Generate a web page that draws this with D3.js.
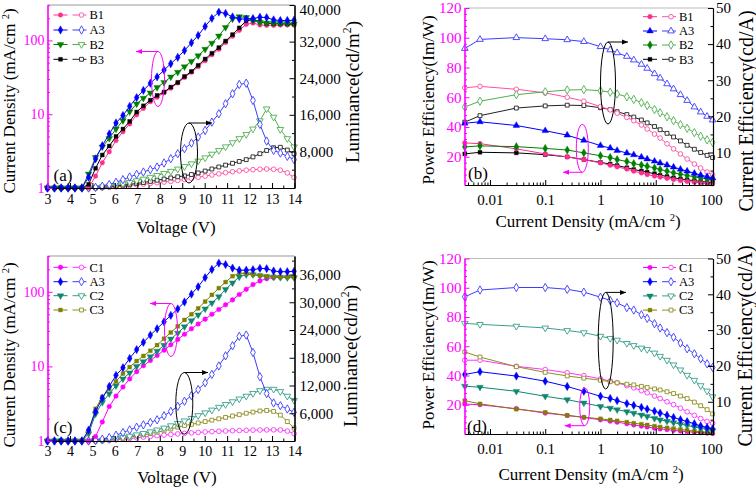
<!DOCTYPE html>
<html><head><meta charset="utf-8">
<script src="https://cdn.jsdelivr.net/npm/d3@7"></script>
<style>body{margin:0;background:#fff} svg{display:block}</style>
</head><body>
<script>
// ---------------- DATA ----------------
const voltage = [3.00,3.31,3.61,3.92,4.22,4.53,4.83,5.14,5.44,5.75,6.05,6.36,6.66,6.97,7.27,7.58,7.88,8.19,8.49,8.80,9.10,9.41,9.71,10.02,10.32,10.63,10.93,11.24,11.54,11.85,12.15,12.46,12.76,13.07,13.37,13.68,13.98];
const jA3 = [1,1,1,1,1,1,1.4,2.48,3.75,5.4,7.6,9.6,12.8,16.8,21,26.3,32,39.6,48.3,59,73,93,117,155,199,242,232,208,195,195,198,206,204,190,186,186,188];
const lA3 = [0,0,0,0,0,0,0,150,400,750,1250,1830,2400,2990,3490,4010,4580,5460,6410,7500,8600,9820,11130,12590,14400,16230,18420,20600,22630,22910,19140,13900,10260,8230,7640,6920,6200];
const jB1 = [1,1,1,1,1,1,1,1.45,2.2,3.1,4.4,5.8,7.4,9.8,12,14.8,17,19.5,22.5,26.5,31.5,37,44,53,64,76,94,114,137,165,172,162,160,160,162,162,162];
const lB1 = [0,0,0,0,0,0,0,0,50,150,250,400,550,700,850,1000,1150,1300,1450,1650,1850,2100,2350,2600,2850,3100,3350,3550,3750,3900,4000,4100,4150,4100,3900,3300,2300];
const jB2 = [1,1,1,1,1,1,1.55,2.6,3.6,4.7,6.3,8.2,10.8,13.8,16.5,19.5,23,27,32,37,44,52,62,76,92,115,150,195,210,205,185,175,172,172,170,170,168];
const lB2 = [0,0,0,0,0,0,0,100,250,450,700,950,1250,1600,1950,2350,2750,3200,3650,4150,4700,5300,5900,6600,7400,8200,9000,9900,10800,11700,12900,14700,17300,15500,12800,10800,9000];
const jB3 = [1,1,1,1,1,1,1.12,1.85,2.8,3.7,5.0,6.3,8.0,10.7,13,15.5,18,20,23.3,27,32.5,38,46,56,67,80,98,120,148,185,190,180,170,168,168,167,166];
const lB3 = [0,0,0,0,0,0,0,50,150,300,450,600,800,1000,1200,1450,1700,1950,2200,2450,2650,2950,3300,3700,4150,4600,5000,5400,5800,6200,6800,7500,8200,8800,8900,8300,7500];
const jC1 = [1,1,1,1,1,1,1,1.15,1.8,2.9,4.0,5.3,6.8,8.5,10.2,12,14,16.5,19.5,23,27,32,37,43,50,58,67,78,92,108,125,140,150,155,157,158,158];
const lC1 = [0,0,0,0,0,0,0,0,0,100,250,400,550,700,850,1000,1150,1300,1420,1530,1650,1760,1860,1950,2030,2100,2160,2220,2270,2310,2350,2380,2400,2420,2380,2150,1600];
const jC2 = [1,1,1,1,1,1,1.25,2.3,3.3,4.3,5.5,6.8,8.2,10.0,11.6,13.5,16.0,19.2,23.3,28,34,41,49,59,71,86,108,132,158,170,170,164,160,157,156,155,155];
const lC2 = [0,0,0,0,0,0,0,0,150,350,550,800,1050,1350,1650,2000,2400,2800,3300,3800,4350,4900,5500,6100,6700,7300,7900,8500,9100,9700,10300,10900,11200,11200,10700,9700,8800];
const jC3 = [1,1,1,1,1,1,1.35,2.7,3.9,5.0,6.3,8.0,9.8,11.8,13.8,16.2,19.3,23.5,28.5,34.5,42,50,60,74,91,112,135,162,178,175,170,165,162,160,158,158,157];
const lC3 = [0,0,0,0,0,0,0,0,100,250,450,650,850,1100,1350,1600,1900,2200,2600,3000,3350,3600,3900,4200,4500,4800,5100,5400,5700,6000,6250,6500,6600,6400,5600,4200,2800];

const effJ = [0.0035,0.0066,0.03,0.1,0.25,0.5,1.0,1.5,2.0,3.0,4.0,5.5,7.0,9.5,12,16,21,28,37,50,65,85,107];
const peB1 = [29.3,28.8,25.3,21.9,19.9,18.1,15.9,14.3,13.2,11.7,10.3,9.1,8.0,7.0,6.3,5.5,4.7,4.0,3.4,2.9,2.5,2.1,1.8];
const ceB1 = [27.9,28.3,27.5,26.5,25.3,24.2,22.7,21.8,20.9,19.7,18.8,17.6,16.5,15.1,14.0,12.4,11.0,9.6,8.2,6.8,5.7,4.6,3.8];
const peA3b = [42.5,43.5,41.0,37.5,34.5,31.0,27.5,25.8,24.2,22.5,21.3,19.7,18.5,17.0,15.8,14.4,13.0,11.6,10.3,8.9,7.7,6.6,5.6];
const ceA3b = [38.8,41.3,41.8,41.5,41.2,40.7,39.3,38.4,37.6,36.6,35.6,34.4,33.3,31.8,30.6,29.0,27.6,26.0,24.4,22.6,21.2,20.0,19.0];
const peB2 = [26.6,27.3,26.8,25.6,24.5,22.6,20.7,19.5,18.1,16.8,15.4,14.4,13.6,12.5,11.4,10.3,9.2,8.3,7.4,6.5,5.8,5.2,4.7];
const ceB2 = [22.6,24.2,26.0,26.8,27.3,27.4,27.1,26.7,26.2,25.4,24.7,23.8,23.0,21.9,21.0,19.9,18.8,17.7,16.7,15.5,14.5,13.5,12.8];
const peB3 = [21.9,23.0,22.6,21.4,19.9,18.1,16.2,15.1,14.1,12.6,11.4,10.4,9.6,8.6,7.6,6.7,5.8,5.1,4.5,3.9,3.4,2.9,2.5];
const ceB3 = [18.4,20.2,22.3,22.9,23.1,23.0,22.4,21.9,21.3,20.5,19.8,19.0,18.2,17.2,16.3,15.3,14.3,13.2,12.0,10.9,10.0,9.2,8.6];
const peC1 = [20.5,20.0,17.3,14.3,12.7,11.3,9.7,8.8,8.1,7.0,6.2,5.4,4.8,4.0,3.5,3.0,2.5,2.0,1.6,1.2,0.9,0.6,0.3];
const ceC1 = [21.6,21.6,19.9,19.0,18.1,17.3,16.4,15.8,15.3,14.5,13.9,13.1,12.5,11.6,10.9,10.0,9.2,8.2,7.2,6.2,5.3,4.5,4.0];
const peA3d = [40.7,42.6,39.6,36.1,32.5,29.2,25.8,24.3,22.8,20.8,19.6,18.2,17.0,15.6,14.3,12.8,11.3,9.8,8.5,7.0,5.5,4.5,3.5];
const ceA3d = [39.3,41.2,41.9,41.9,41.4,40.6,39.2,38.3,37.6,36.3,35.6,34.3,33.3,31.8,30.6,29.3,28.0,26.4,24.8,23.4,22.0,20.6,19.6];
const peC2 = [32.7,32.0,29.2,25.8,23.5,21.2,18.9,17.7,16.6,15.3,14.3,13.0,12.0,10.7,9.7,8.7,7.8,6.8,5.8,4.8,3.9,3.1,2.3];
const ceC2 = [31.9,31.6,31.1,30.6,29.9,29.3,28.3,27.7,27.2,26.3,25.7,25.0,24.6,23.6,22.7,21.6,20.3,18.9,17.4,16.0,14.5,13.0,11.4];
const peC3 = [22.8,20.6,17.0,14.8,12.7,11.5,10.4,9.6,9.0,8.1,7.4,6.7,6.2,5.4,4.8,4.2,3.7,3.1,2.5,2.0,1.6,1.1,0.7];
const ceC3 = [23.9,22.5,19.8,18.2,17.2,16.6,16.0,15.6,15.3,14.9,14.7,14.3,14.0,13.6,13.3,12.8,12.3,11.6,10.9,9.9,8.9,7.8,6.6];

const voltTicks = [3,4,5,6,7,8,9,10,11,12,13,14];
const jTicks = [1,10,100];
const lumTicksA = [8000,16000,24000,32000,40000];
const lumTicksC = [6000,12000,18000,24000,30000,36000];
const effXTicks = [0.01,0.1,1,10,100];
const effXLabels = ["0.01","0.1","1","10","100"];
const peTicks = [20,40,60,80,100,120];
const ceTicks = [10,20,30,40,50];

// ---------------- DRAWING ----------------
const FONT = "'Liberation Serif','Times New Roman',serif";
const MAG = "#ff00ff";
const COL = {
  B1:"#ff2d8f", B1o:"#ff4fa3",
  A3:"#0000ff", A3o:"#3c3cff",
  B2:"#008000", B2o:"#4fae4f",
  B3:"#000000", B3o:"#222222",
  C1:"#ff00ff", C1o:"#ff33ff",
  C2:"#0f8670", C2o:"#3a9f8c",
  C3:"#808000", C3o:"#8f8f22"
};
const svg = d3.select("body").append("svg").attr("width",756).attr("height",488)
  .style("font-family",FONT);

function symPath(shape){
  const m = {circle:[d3.symbolCircle,17], diamond:[d3.symbolDiamond,20], triUp:[d3.symbolTriangle,19],
             triDown:[d3.symbolTriangle,19], square:[d3.symbolSquare,15]}[shape];
  return d3.symbol().type(m[0]).size(m[1])();
}
function marker(g, x, y, shape, color, filled){
  g.append("path").attr("d", symPath(shape))
    .attr("transform", `translate(${x},${y})` + (shape==="triDown"?" rotate(180)":""))
    .attr("fill", filled?color:"#fff").attr("stroke", color).attr("stroke-width", filled?0.4:0.9);
}
function drawSeries(g, xs, ys, x, y, color, shape, filled, lineColor){
  const pts = xs.map((v,i)=>[x(v), y(ys[i])]);
  g.append("path").attr("d", d3.line()(pts)).attr("fill","none")
    .attr("stroke", lineColor||color).attr("stroke-width",1);
  pts.forEach(p=>marker(g,p[0],p[1],shape,color,filled));
}
function styleAxis(sel, size, color){
  sel.attr("font-family",FONT).attr("font-size",size).attr("color",color||"#000");
  sel.select(".domain").attr("stroke-width",1.2);
}
function legend(g, items, x0, ys){
  items.forEach((it,i)=>{
    const y = ys[i];
    g.append("line").attr("x1",x0).attr("x2",x0+14).attr("y1",y).attr("y2",y).attr("stroke",it.color).attr("stroke-width",1);
    marker(g, x0+7, y, it.shape, it.color, true);
    g.append("line").attr("x1",x0+19).attr("x2",x0+33).attr("y1",y).attr("y2",y).attr("stroke",it.ocolor).attr("stroke-width",1);
    marker(g, x0+28, y, it.shape, it.ocolor, false);
    g.append("text").attr("x",x0+36).attr("y",y).attr("dy","0.35em").attr("font-size",12.5).text(it.name);
  });
}
function arrow(g, x1, y1, x2, y2, color){
  g.append("line").attr("x1",x1).attr("y1",y1).attr("x2",x2).attr("y2",y2).attr("stroke",color).attr("stroke-width",1);
  const dir = Math.sign(x2-x1);
  g.append("path").attr("d",`M${x2},${y2} L${x2-dir*6},${y2-2.5} L${x2-dir*6},${y2+2.5} Z`).attr("fill",color);
}
function ellipse(g, cx, cy, rx, ry, color){
  g.append("ellipse").attr("cx",cx).attr("cy",cy).attr("rx",rx).attr("ry",ry)
    .attr("fill","none").attr("stroke",color).attr("stroke-width",1);
}
function vtitle(g, x, y, size, parts){
  const t = g.append("text").attr("transform",`translate(${x},${y}) rotate(-90)`)
    .attr("text-anchor","middle").attr("dy","0.35em").attr("font-size",size);
  parts.forEach(p=>{
    const s = t.append("tspan").text(p[0]);
    if(p[1]) s.attr("font-size",size*0.62).attr("dy",-size*0.38);
    else if(p[2]) s.attr("dy",size*0.38);
  });
}
function htitle(g, x, y, size, parts){
  const t = g.append("text").attr("x",x).attr("y",y).attr("text-anchor","middle").attr("dy","0.35em").attr("font-size",size);
  parts.forEach(p=>{
    const s = t.append("tspan").text(p[0]);
    if(p[1]) s.attr("font-size",size*0.62).attr("dy",-size*0.38);
    else if(p[2]) s.attr("dy",size*0.38);
  });
}

function panelJV(c){
  const g = svg.append("g");
  const x = d3.scaleLinear().domain([3,14]).range([c.left,c.right]);
  const yJ = d3.scaleLog().domain([1,302]).range([c.bottom,c.top]).clamp(true);
  const yL = d3.scaleLinear().domain([0,40000]).range([c.bottom,c.top]).clamp(true);
  g.append("line").attr("x1",c.left).attr("x2",c.right).attr("y1",c.top).attr("y2",c.top).attr("stroke","#999").attr("stroke-width",1);
  c.lum.forEach(s=>drawSeries(g, voltage, s.v, x, yL, s.color, s.shape, false, s.color));
  c.cur.forEach(s=>drawSeries(g, voltage, s.v, x, yJ, s.color, s.shape, true));
  // bottom axis
  const half = d3.range(3.5,14,1);
  g.append("g").attr("transform",`translate(0,${c.bottom})`)
    .call(d3.axisBottom(x).tickValues(half).tickSize(-2.5).tickSizeOuter(0).tickFormat(""));
  g.append("g").attr("transform",`translate(0,${c.bottom})`)
    .call(d3.axisBottom(x).tickValues(voltTicks).tickSize(-5).tickSizeOuter(0).tickPadding(c.xpad).tickFormat(d3.format("d")))
    .call(s=>styleAxis(s,14));
  // left log axis
  const minor = [2,3,4,5,6,7,8,9,20,30,40,50,60,70,80,90,200,300];
  g.append("g").attr("transform",`translate(${c.left},0)`)
    .call(d3.axisLeft(yJ).tickValues(minor).tickSize(-2.5).tickSizeOuter(0).tickFormat(""))
    .attr("color",MAG);
  g.append("g").attr("transform",`translate(${c.left},0)`)
    .call(d3.axisLeft(yJ).tickValues(jTicks).tickSize(-5).tickSizeOuter(0).tickPadding(3).tickFormat(d3.format("d")))
    .call(s=>styleAxis(s,14,MAG));
  // right axis
  const step = c.lumTicks[1]-c.lumTicks[0];
  const rmin = d3.range(step/2, 40000, step);
  g.append("g").attr("transform",`translate(${c.right},0)`)
    .call(d3.axisRight(yL).tickValues(rmin).tickSize(-2.5).tickSizeOuter(0).tickFormat(""));
  const ra = g.append("g").attr("transform",`translate(${c.right},0)`)
    .call(d3.axisRight(yL).tickValues(c.lumTicks).tickSize(-5).tickSizeOuter(0).tickPadding(5).tickFormat(d3.format(",")))
    .call(s=>styleAxis(s,15));
  ra.selectAll(".tick text").filter(d=>d===40000).attr("dy","0.62em");
  // titles
  vtitle(g, c.ltx, c.lty, 17, [["Current Density (mA/cm "],["2",true],[")",false,true]]);
  vtitle(g, c.rtx, c.rty, 19, [["Luminance(cd/m"],["2",true],[")",false,true]]);
  htitle(g, c.xtx, c.xty, 17, [["Voltage (V)"]]);
  g.append("text").attr("x",c.labx).attr("y",c.laby).attr("dy","0.35em").attr("text-anchor","middle").attr("font-size",17).text(c.label);
  legend(g, c.legend, c.left+6, c.legY);
  c.annot(g);
}

function panelEff(c){
  const g = svg.append("g");
  const x = d3.scaleLog().domain([0.00346,108.7]).range([c.left,c.right]);
  const yP = d3.scaleLinear().domain(c.pDom).range([c.bottom,c.top]).clamp(true);
  const yC = d3.scaleLinear().domain([1,50]).range([c.bottom,c.top]).clamp(true);
  g.append("line").attr("x1",c.left).attr("x2",c.right).attr("y1",c.top).attr("y2",c.top).attr("stroke","#bbb").attr("stroke-width",1);
  c.ce.forEach(s=>drawSeries(g, effJ, s.v, x, yC, s.color, s.shape, false, s.color));
  c.pe.forEach(s=>drawSeries(g, effJ, s.v, x, yP, s.color, s.shape, true));
  // bottom axis
  const minor = [];
  [0.001,0.01,0.1,1,10].forEach(d=>{for(let k=2;k<=9;k++){const v=d*k; if(v>0.00346&&v<108.7) minor.push(v);}});
  g.append("g").attr("transform",`translate(0,${c.bottom})`)
    .call(d3.axisBottom(x).tickValues(minor).tickSize(-2.5).tickSizeOuter(0).tickFormat(""));
  g.append("g").attr("transform",`translate(0,${c.bottom})`)
    .call(d3.axisBottom(x).tickValues(effXTicks).tickSize(-5).tickSizeOuter(0).tickPadding(c.xpad).tickFormat((d,i)=>effXLabels[i]))
    .call(s=>styleAxis(s,15));
  // left axis
  g.append("g").attr("transform",`translate(${c.left},0)`)
    .call(d3.axisLeft(yP).tickValues(d3.range(4,120,4).filter(v=>v%20)).tickSize(-2.5).tickSizeOuter(0).tickFormat(""))
    .attr("color",MAG);
  g.append("g").attr("transform",`translate(${c.left},0)`)
    .call(d3.axisLeft(yP).tickValues(peTicks).tickSize(-5).tickSizeOuter(0).tickPadding(3))
    .call(s=>styleAxis(s,15,MAG));
  // right axis
  g.append("g").attr("transform",`translate(${c.right},0)`)
    .call(d3.axisRight(yC).tickValues([5,15,25,35,45]).tickSize(-2.5).tickSizeOuter(0).tickFormat(""));
  g.append("g").attr("transform",`translate(${c.right},0)`)
    .call(d3.axisRight(yC).tickValues(ceTicks).tickSize(-5).tickSizeOuter(0).tickPadding(3))
    .call(s=>styleAxis(s,15));
  vtitle(g, c.ltx, c.lty, 17, [["Power Efficiency(Im/W)"]]);
  vtitle(g, c.rtx, c.rty, 20, [["Current Efficiency(cd/A)"]]);
  htitle(g, c.xtx, c.xty, 17, [["Current Density (mA/cm "],["2",true],[")",false,true]]);
  g.append("text").attr("x",c.labx).attr("y",c.laby).attr("dy","0.35em").attr("text-anchor","middle").attr("font-size",17).text(c.label);
  legend(g, c.legend, 643, c.legY);
  c.annot(g);
}

// Panel (a)
panelJV({left:47.5,right:294.5,top:5,bottom:188,xpad:6,lumTicks:lumTicksA,
  cur:[{v:jB1,color:COL.B1,shape:"circle"},{v:jB3,color:COL.B3,shape:"square"},{v:jB2,color:COL.B2,shape:"triDown"},{v:jA3,color:COL.A3,shape:"diamond"}],
  lum:[{v:lB1,color:COL.B1o,shape:"circle"},{v:lB3,color:COL.B3o,shape:"square"},{v:lB2,color:COL.B2o,shape:"triDown"},{v:lA3,color:COL.A3o,shape:"diamond"}],
  ltx:9,lty:101,rtx:352,rty:92,xtx:176,xty:227,label:"(a)",labx:63,laby:175,
  legY:[15,30,44.5,59.3],
  legend:[{name:"B1",color:COL.B1,ocolor:COL.B1o,shape:"circle"},{name:"A3",color:COL.A3,ocolor:COL.A3o,shape:"diamond"},
          {name:"B2",color:COL.B2,ocolor:COL.B2o,shape:"triDown"},{name:"B3",color:COL.B3,ocolor:COL.B3o,shape:"square"}],
  annot:g=>{ellipse(g,158,79,6.5,27.5,MAG);arrow(g,158,51.5,136,51.5,MAG);
            ellipse(g,189,153,8.5,30,"#000");arrow(g,189,123,212,123,"#000");}
});
// Panel (c)
panelJV({left:47.5,right:294.5,top:256,bottom:441,xpad:5,lumTicks:lumTicksC,
  cur:[{v:jC1,color:COL.C1,shape:"circle"},{v:jC2,color:COL.C2,shape:"triDown"},{v:jC3,color:COL.C3,shape:"square"},{v:jA3,color:COL.A3,shape:"diamond"}],
  lum:[{v:lC1,color:COL.C1o,shape:"circle"},{v:lC3,color:COL.C3o,shape:"square"},{v:lC2,color:COL.C2o,shape:"triDown"},{v:lA3,color:COL.A3o,shape:"diamond"}],
  ltx:9,lty:355,rtx:350,rty:356,xtx:177,xty:477,label:"(c)",labx:63,laby:427,
  legY:[267.3,281.7,295.7,310],
  legend:[{name:"C1",color:COL.C1,ocolor:COL.C1o,shape:"circle"},{name:"A3",color:COL.A3,ocolor:COL.A3o,shape:"diamond"},
          {name:"C2",color:COL.C2,ocolor:COL.C2o,shape:"triDown"},{name:"C3",color:COL.C3,ocolor:COL.C3o,shape:"square"}],
  annot:g=>{ellipse(g,171,330,6.5,26.5,MAG);arrow(g,171,303.5,150,303.5,MAG);
            ellipse(g,184.3,403.3,8.5,30.8,"#000");arrow(g,184.3,372.5,208,372.5,"#000");}
});
// Panel (b)
panelEff({left:464.5,right:713,top:8,bottom:185,xpad:9,pDom:[1,120],
  pe:[{v:peB3,color:COL.B3,shape:"square"},{v:peB1,color:COL.B1,shape:"circle"},{v:peB2,color:COL.B2,shape:"diamond"},{v:peA3b,color:COL.A3,shape:"triUp"}],
  ce:[{v:ceB3,color:COL.B3o,shape:"square"},{v:ceB1,color:COL.B1o,shape:"circle"},{v:ceB2,color:COL.B2o,shape:"diamond"},{v:ceA3b,color:COL.A3o,shape:"triUp"}],
  ltx:428,lty:100,rtx:746,rty:111,xtx:588,xty:221.5,label:"(b)",labx:478,laby:173,
  legY:[16.7,31,45,59.3],
  legend:[{name:"B1",color:COL.B1,ocolor:COL.B1o,shape:"circle"},{name:"A3",color:COL.A3,ocolor:COL.A3o,shape:"triUp"},
          {name:"B2",color:COL.B2,ocolor:COL.B2o,shape:"diamond"},{name:"B3",color:COL.B3,ocolor:COL.B3o,shape:"square"}],
  annot:g=>{ellipse(g,608,83,7.5,41,"#000");arrow(g,608,42,628,42,"#000");
            ellipse(g,582.3,148.3,6,24,MAG);arrow(g,582.3,172.3,563,172.3,MAG);}
});
// Panel (d)
panelEff({left:464.5,right:713,top:258.5,bottom:434,xpad:9,pDom:[0,120],
  pe:[{v:peC1,color:COL.C1,shape:"circle"},{v:peC3,color:COL.C3,shape:"square"},{v:peC2,color:COL.C2,shape:"triDown"},{v:peA3d,color:COL.A3,shape:"diamond"}],
  ce:[{v:ceC1,color:COL.C1o,shape:"circle"},{v:ceC3,color:COL.C3o,shape:"square"},{v:ceC2,color:COL.C2o,shape:"triDown"},{v:ceA3d,color:COL.A3o,shape:"diamond"}],
  ltx:428,lty:345,rtx:745,rty:346,xtx:591,xty:474,label:"(d)",labx:477,laby:426,
  legY:[267.5,281.7,295.9,310.1],
  legend:[{name:"C1",color:COL.C1,ocolor:COL.C1o,shape:"circle"},{name:"A3",color:COL.A3,ocolor:COL.A3o,shape:"diamond"},
          {name:"C2",color:COL.C2,ocolor:COL.C2o,shape:"triDown"},{name:"C3",color:COL.C3,ocolor:COL.C3o,shape:"square"}],
  annot:g=>{ellipse(g,605.7,340.7,7.5,48.3,"#000");arrow(g,605.7,292.4,626,292.4,"#000");
            ellipse(g,584.7,406.7,5,19,MAG);arrow(g,584.7,425.7,564.7,425.7,MAG);}
});
</script>
</body></html>
